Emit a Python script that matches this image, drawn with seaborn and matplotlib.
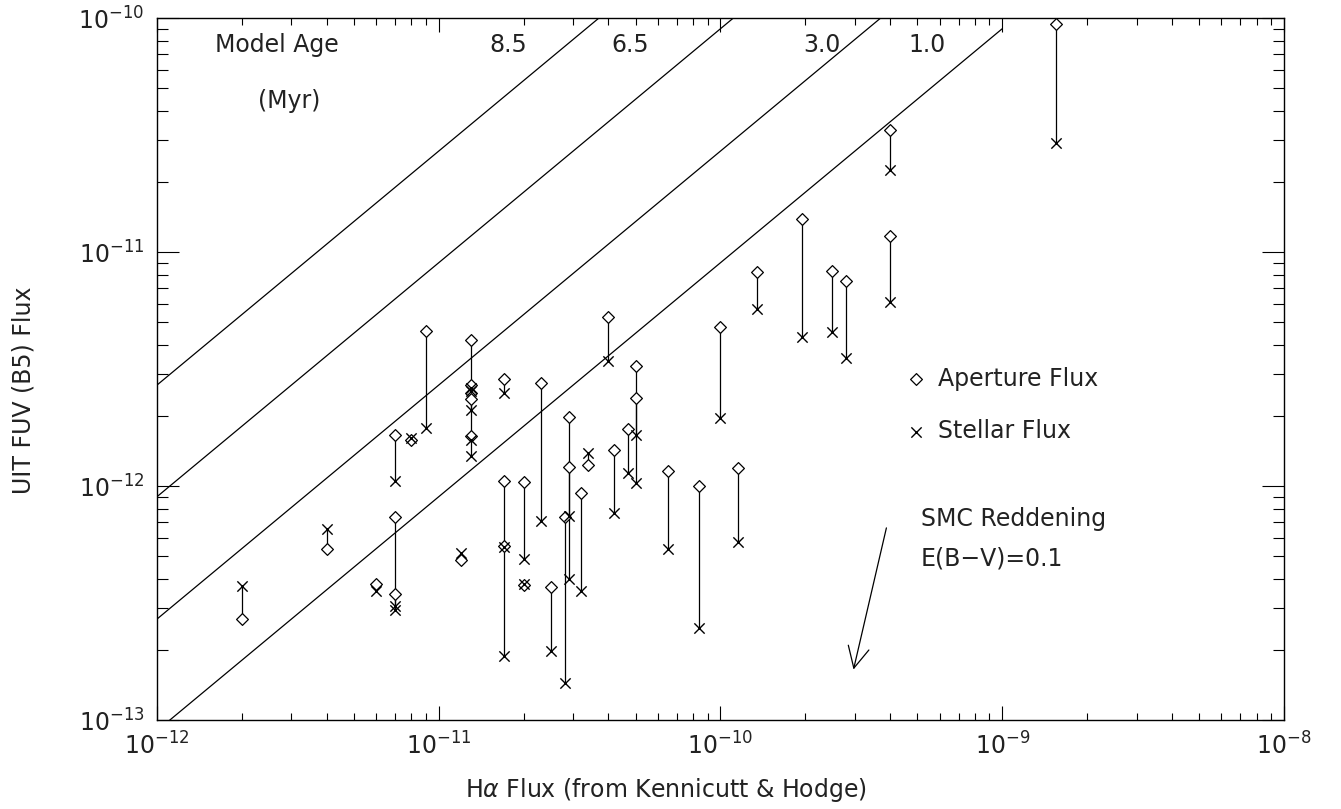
import numpy as np
import pandas as pd
import matplotlib
matplotlib.use("Agg")
import matplotlib.pyplot as plt
import seaborn as sns
from matplotlib.ticker import LogLocator, NullFormatter

# ---------------- data ----------------
halpha = [2.0e-12, 4.0e-12, 6.0e-12, 7.0e-12, 7.0e-12, 7.0e-12, 8.0e-12, 9.0e-12,
          1.2e-11, 1.3e-11, 1.3e-11, 1.3e-11, 1.3e-11, 1.3e-11, 1.7e-11, 1.7e-11,
          1.7e-11, 2.0e-11, 2.0e-11, 2.3e-11, 2.5e-11, 2.8e-11, 2.9e-11, 2.9e-11,
          3.2e-11, 3.4e-11, 4.0e-11, 4.2e-11, 4.7e-11, 5.0e-11, 5.0e-11, 6.5e-11,
          8.4e-11, 1.0e-10, 1.15e-10, 1.35e-10, 1.95e-10, 2.49e-10, 2.79e-10,
          4.0e-10, 4.0e-10, 1.55e-9]
aperture = [2.70e-13, 5.40e-13, 3.80e-13, 1.65e-12, 7.34e-13, 3.46e-13, 1.58e-12, 4.61e-12,
            4.83e-13, 4.20e-12, 2.70e-12, 2.50e-12, 2.35e-12, 1.64e-12, 2.88e-12, 1.05e-12,
            5.55e-13, 1.04e-12, 3.77e-13, 2.75e-12, 3.71e-13, 7.34e-13, 1.97e-12, 1.20e-12,
            9.31e-13, 1.23e-12, 5.30e-12, 1.43e-12, 1.76e-12, 3.26e-12, 2.37e-12, 1.16e-12,
            1.00e-12, 4.80e-12, 1.19e-12, 8.22e-12, 1.39e-11, 8.32e-12, 7.52e-12,
            3.32e-11, 1.17e-11, 9.42e-11]
stellar = [3.74e-13, 6.58e-13, 3.56e-13, 1.05e-12, 3.07e-13, 2.95e-13, 1.60e-12, 1.77e-12,
           5.18e-13, 1.34e-12, 2.62e-12, 2.11e-12, 2.55e-12, 1.58e-12, 2.50e-12, 1.87e-13,
           5.50e-13, 4.88e-13, 3.80e-13, 7.08e-13, 1.97e-13, 1.44e-13, 3.99e-13, 7.45e-13,
           3.57e-13, 1.39e-12, 3.43e-12, 7.69e-13, 1.14e-12, 1.03e-12, 1.65e-12, 5.36e-13,
           2.48e-13, 1.96e-12, 5.78e-13, 5.69e-12, 4.32e-12, 4.54e-12, 3.52e-12,
           2.24e-11, 6.14e-12, 2.91e-11]

model_ages = ["8.5", "6.5", "3.0", "1.0"]
model_ratio = [2.7, 0.9, 0.27, 0.09]          # FUV / Halpha for each model age
model_halpha = [1e-12, 1e-9]

xticks = [1e-12, 1e-11, 1e-10, 1e-9, 1e-8]
xtick_labels = [r"$10^{-12}$", r"$10^{-11}$", r"$10^{-10}$", r"$10^{-9}$", r"$10^{-8}$"]
yticks = [1e-13, 1e-12, 1e-11, 1e-10]
ytick_labels = [r"$10^{-13}$", r"$10^{-12}$", r"$10^{-11}$", r"$10^{-10}$"]

reddening_start = (3.9e-10, 6.8e-13)
reddening_end = (2.95e-10, 1.6e-13)

# ---------------- style ----------------
sns.set_theme(style="ticks")
plt.rcParams["font.family"] = ["DejaVu Sans"]
plt.rcParams["mathtext.fontset"] = "dejavusans"
TXT = "#222222"
FS = 17

fig = plt.figure(figsize=(13.41, 8.09), dpi=100)
ax = fig.add_axes([157 / 1341, 89 / 809, 1127 / 1341, 702 / 809])
ax.set_xscale("log")
ax.set_yscale("log")

# model lines
xs = np.array(model_halpha)
for age, k in zip(model_ages, model_ratio):
    sns.lineplot(x=xs, y=k * xs, ax=ax, color="black", linewidth=0.9,
                 estimator=None, sort=False, legend=False)

# connecting segments
ap = np.array(aperture)
st = np.array(stellar)
ax.vlines(halpha, np.minimum(ap, st), np.maximum(ap, st), color="black", linewidth=0.9, zorder=2)

sns.scatterplot(x=halpha, y=aperture, ax=ax, marker="D", s=36, facecolor="white",
                edgecolor="black", linewidth=0.9, label="Aperture Flux", zorder=3)
sns.scatterplot(x=halpha, y=stellar, ax=ax, marker="x", s=55, color="black",
                linewidth=1.0, label="Stellar Flux", zorder=4)

ax.set_xlim(1e-12, 1e-8)
ax.set_ylim(1e-13, 1e-10)

ax.set_xticks(xticks)
ax.set_xticklabels(xtick_labels)
ax.set_yticks(yticks)
ax.set_yticklabels(ytick_labels)
ax.xaxis.set_minor_locator(LogLocator(base=10, subs=np.arange(2, 10)))
ax.yaxis.set_minor_locator(LogLocator(base=10, subs=np.arange(2, 10)))
ax.xaxis.set_minor_formatter(NullFormatter())
ax.yaxis.set_minor_formatter(NullFormatter())

ax.tick_params(which="both", direction="in", top=True, right=True, bottom=True, left=True,
               color="black", width=0.8, labelsize=FS, labelcolor=TXT)
ax.tick_params(axis="x", which="major", length=10, pad=9)
ax.tick_params(axis="x", which="minor", length=5)
ax.tick_params(axis="y", which="major", length=16, pad=9)
ax.tick_params(axis="y", which="minor", length=8)

for sp in ax.spines.values():
    sp.set_visible(True)
    sp.set_color("black")
    sp.set_linewidth(1.0)

ax.set_xlabel(r"H$\alpha$ Flux (from Kennicutt & Hodge)", fontsize=FS, color=TXT)
ax.xaxis.set_label_coords(0.452, -0.080)
ax.set_ylabel("UIT FUV (B5) Flux", fontsize=FS, color=TXT)
ax.yaxis.set_label_coords(-0.108, 0.47)

# model age labels
ax.text(0.106, 0.9615, "Model Age", transform=ax.transAxes, ha="center", va="center",
        fontsize=FS, color=TXT)
ax.text(0.117, 0.882, "(Myr)", transform=ax.transAxes, ha="center", va="center",
        fontsize=FS, color=TXT)
for age, xpos in zip(model_ages, [0.312, 0.420, 0.590, 0.683]):
    ax.text(xpos, 0.9615, age, transform=ax.transAxes, ha="center", va="center",
            fontsize=FS, color=TXT)

# reddening vector
ax.annotate("", xy=reddening_end, xytext=reddening_start,
            arrowprops=dict(arrowstyle="->", color="black", lw=0.9, mutation_scale=38))
ax.text(0.678, 0.258, "SMC Reddening\nE(B\u2212V)=0.1", transform=ax.transAxes,
        ha="left", va="center", fontsize=FS, color=TXT, linespacing=1.8)

leg = ax.legend(loc="upper left", bbox_to_anchor=(0.655, 0.517), frameon=False,
                fontsize=FS, handlelength=1.0, handletextpad=0.4, labelspacing=1.2,
                borderaxespad=0.0)
for t in leg.get_texts():
    t.set_color(TXT)

fig.savefig("out.png", dpi=100)
